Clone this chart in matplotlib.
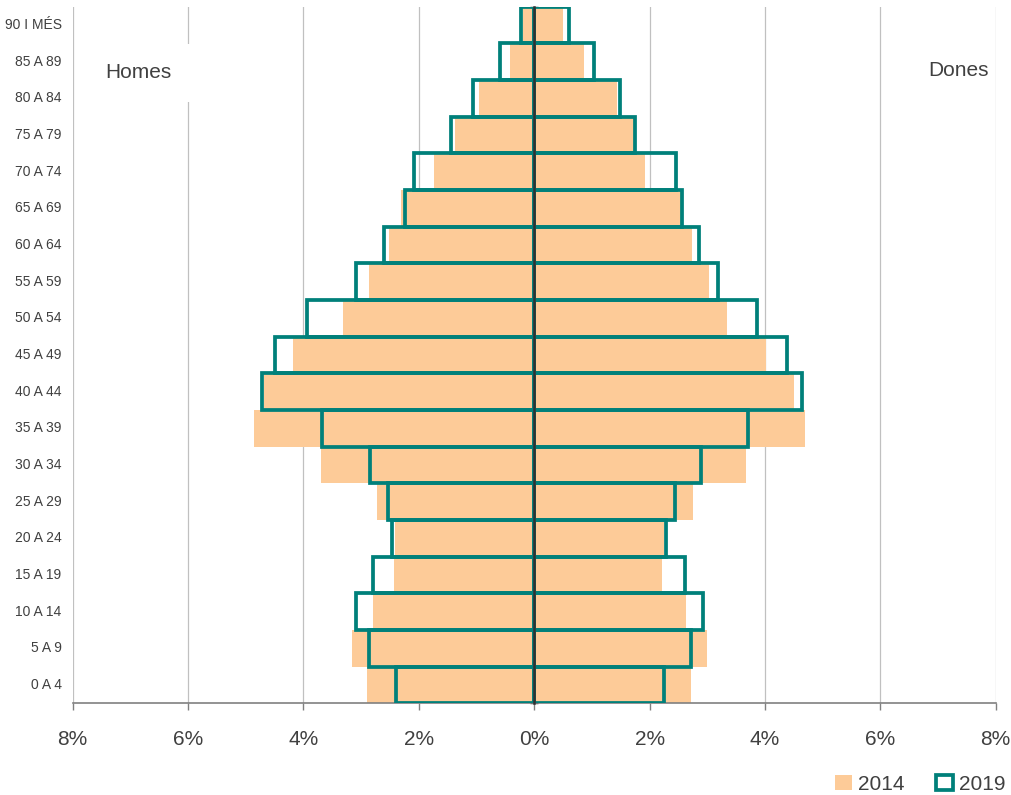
import matplotlib.pyplot as plt
from matplotlib.patches import Patch
from matplotlib.ticker import FuncFormatter
import matplotlib.transforms as mtransforms

ages = ["0 A 4", "5 A 9", "10 A 14", "15 A 19", "20 A 24", "25 A 29", "30 A 34",
        "35 A 39", "40 A 44", "45 A 49", "50 A 54", "55 A 59", "60 A 64",
        "65 A 69", "70 A 74", "75 A 79", "80 A 84", "85 A 89", "90 I MÉS"]

homes_2014 = [2.90, 3.16, 2.79, 2.43, 2.41, 2.72, 3.69, 4.85, 4.68, 4.18,
              3.31, 2.86, 2.52, 2.30, 1.74, 1.37, 0.95, 0.42, 0.19]
dones_2014 = [2.71, 2.99, 2.64, 2.21, 2.25, 2.76, 3.68, 4.70, 4.50, 4.01,
              3.34, 3.03, 2.74, 2.54, 1.92, 1.73, 1.43, 0.86, 0.50]
homes_2019 = [2.39, 2.87, 3.09, 2.79, 2.47, 2.53, 2.85, 3.68, 4.72, 4.50,
              3.94, 3.08, 2.61, 2.24, 2.08, 1.45, 1.06, 0.59, 0.23]
dones_2019 = [2.25, 2.71, 2.93, 2.61, 2.29, 2.44, 2.90, 3.70, 4.64, 4.38,
              3.87, 3.19, 2.85, 2.57, 2.45, 1.75, 1.48, 1.04, 0.61]

peach = "#FDCB98"
teal = "#00807A"
txt = "#404040"
narrow = ["Liberation Sans Narrow", "Liberation Sans", "DejaVu Sans"]
plt.rcParams["font.family"] = ["Liberation Sans", "DejaVu Sans"]

fig = plt.figure(figsize=(10.12, 7.95), dpi=100)
ax = fig.add_axes([0.0718, 0.1153, 0.9121, 0.8763])

y = list(range(len(ages)))
ax.barh(y, [-v for v in homes_2014], height=1.0, color=peach, zorder=2)
ax.barh(y, dones_2014, height=1.0, color=peach, zorder=2)
ax.barh(y, [-v for v in homes_2019], height=1.0, fill=False, edgecolor=teal,
        linewidth=2.7, zorder=3, joinstyle="miter")
ax.barh(y, dones_2019, height=1.0, fill=False, edgecolor=teal,
        linewidth=2.7, zorder=3, joinstyle="miter")

ax.set_xlim(-8, 8)
ax.set_ylim(-0.5, len(ages) - 0.5)
ax.set_xticks(range(-8, 9, 2))
ax.xaxis.set_major_formatter(FuncFormatter(lambda v, p: f"{abs(v):.0f}%"))
ax.tick_params(axis="x", length=5, width=1, color="#808080", labelsize=15,
               labelcolor=txt, pad=14)
ax.grid(axis="x", color="#C0C0C0", linewidth=0.9, zorder=0)
ax.set_axisbelow(True)

for s in ["top", "right"]:
    ax.spines[s].set_visible(False)
ax.spines["bottom"].set_color("#808080")
ax.spines["bottom"].set_linewidth(1.2)
ax.spines["left"].set_position(("data", 0))
ax.spines["left"].set_color("#303030")
ax.spines["left"].set_linewidth(1.8)
ax.spines["left"].set_zorder(4)
ax.set_yticks([i - 0.5 for i in range(len(ages) + 1)])
ax.set_yticklabels([])
ax.tick_params(axis="y", direction="inout", length=6, width=1, color="#303030")

trans = mtransforms.blended_transform_factory(ax.transAxes, ax.transData)
for i, lab in enumerate(ages):
    ax.text(-0.012, i, lab, transform=trans, ha="right", va="center",
            fontsize=10, color=txt, family=narrow)

ax.text(0.035, 0.905, "Homes", transform=ax.transAxes, fontsize=15, color=txt,
        va="center", ha="left",
        bbox=dict(facecolor="white", edgecolor="none", pad=14))
ax.text(0.992, 0.908, "Dones", transform=ax.transAxes, fontsize=15, color=txt,
        va="center", ha="right")

handles = [Patch(facecolor=peach, edgecolor="none", label="2014"),
           Patch(facecolor="white", edgecolor=teal, linewidth=2.7, label="2019")]
fig.legend(handles=handles, loc="lower right", bbox_to_anchor=(1.012, -0.022),
           ncol=2, frameon=False, fontsize=15, handlelength=0.8,
           handleheight=0.8, handletextpad=0.3, columnspacing=1.5,
           labelcolor=txt)

fig.savefig("out.png", dpi=100)
